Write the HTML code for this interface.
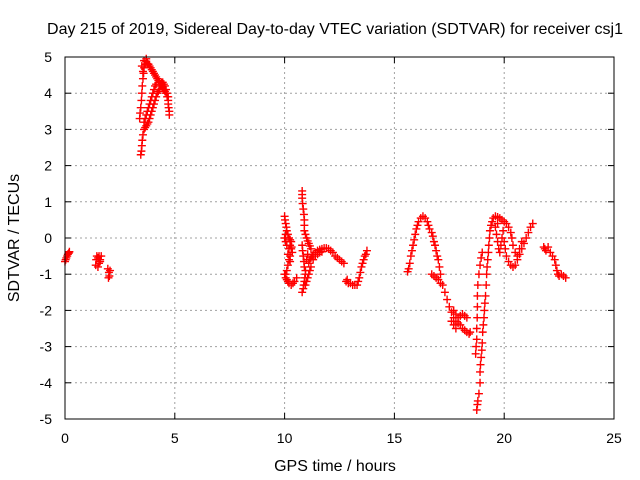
<!DOCTYPE html>
<html><head><meta charset="utf-8"><style>
html,body{margin:0;padding:0;background:#fff;}
svg{display:block;font-family:"Liberation Sans",sans-serif;}
</style></head><body>
<svg id="chart" width="640" height="480" viewBox="0 0 640 480">
<rect width="640" height="480" fill="#fff"/>
<text x="335" y="34" font-size="16" text-anchor="middle">Day 215 of 2019, Sidereal Day-to-day VTEC variation (SDTVAR) for receiver csj1</text>
<text x="335" y="471" font-size="16" text-anchor="middle">GPS time / hours</text>
<text x="0" y="0" font-size="16" text-anchor="middle" transform="translate(19,238) rotate(-90)">SDTVAR / TECUs</text>
<g id="grid"></g>
<g id="ticks"></g>
<g id="points"></g>
<rect x="65" y="57" width="549" height="362" fill="none" stroke="#000" stroke-width="1"/>
</svg>
<script>
const xTicks = [0,5,10,15,20,25];
const yTicks = [-5,-4,-3,-2,-1,0,1,2,3,4,5];
const segA = [[0,-0.65],[0.03,-0.6],[0.06,-0.55],[0.1,-0.5],[0.13,-0.45],[0.17,-0.42],[0.2,-0.38]];
const segB = [[1.4,-0.75],[1.42,-0.6],[1.45,-0.5],[1.5,-0.55],[1.55,-0.5],[1.6,-0.6],[1.65,-0.5],[1.5,-0.8],[1.55,-0.7],[1.6,-0.65]];
const segC = [[1.95,-0.85],[2.0,-0.95],[2.02,-1.05],[1.98,-1.1],[2.05,-0.9]];
const segD = [[3.4,3.3],[3.42,3.45],[3.45,3.6],[3.48,3.8],[3.5,4.0],[3.52,4.2],[3.55,4.4],[3.58,4.55],[3.6,4.7],[3.65,4.8],[3.7,4.88],[3.75,4.82],[3.8,4.8],[3.85,4.75],[3.9,4.7],[3.95,4.65],[4.0,4.6],[4.05,4.55],[4.1,4.5],[4.15,4.45],[4.2,4.4],[4.25,4.35],[4.3,4.3],[4.35,4.25],[4.4,4.2],[4.45,4.15],[4.5,4.1],[4.55,4.05],[4.6,4.0],[4.65,3.9],[4.7,3.8],[4.7,3.7],[4.72,3.6],[4.75,3.5],[4.75,3.4],
[3.45,2.3],[3.48,2.4],[3.5,2.55],[3.52,2.7],[3.55,2.85],[3.6,3.0],[3.65,3.05],[3.7,3.1],[3.75,3.15],[3.8,3.2],[3.85,3.3],[3.9,3.4],[3.95,3.5],[4.0,3.6],[4.05,3.7],[4.1,3.8],[4.15,3.9],[4.2,4.0],[4.25,4.05],[4.3,4.1],[4.35,4.2],[4.4,4.3],[4.45,4.3],[4.5,4.25],[4.55,4.2],[4.6,4.1],[4.65,4.0],[4.7,3.9],
[3.6,3.2],[3.65,3.3],[3.7,3.4],[3.75,3.5],[3.8,3.6],[3.85,3.7],[3.9,3.8],[3.95,3.9],[4.0,4.0],[4.05,4.1],[4.1,4.2],[4.15,4.25],[3.5,4.75],[3.55,4.6],[3.6,4.9],[3.7,4.95]];
const segE = [[10.0,0.6],[10.02,0.5],[10.05,0.4],[10.08,0.3],[10.1,0.2],[10.05,0.1],[10.0,0.0],[10.05,-0.1],[10.1,-0.2],[10.2,-0.3],[10.25,-0.2],[10.3,-0.1],[10.32,-0.25],[10.35,-0.4],[10.25,-0.5],[10.2,-0.6],[10.15,-0.75],[10.1,-0.9],[10.05,-1.0],[10.05,-1.1],[10.1,-1.15],[10.15,-1.2],[10.2,-1.25],[10.3,-1.3],[10.38,-1.25],[10.45,-1.2],[10.55,-1.1],[10.15,0.1],[10.2,0.0],[10.25,-0.05],[10.3,-0.3],[10.0,-1.0],[10.15,-0.45],[10.25,-0.65]];
const segF = [[10.8,1.3],[10.8,1.2],[10.8,1.1],[10.82,0.95],[10.85,0.8],[10.88,0.65],[10.9,0.5],[10.9,0.35],[10.9,0.2],[10.95,0.1],[11.0,0.0],[11.05,-0.08],[11.1,-0.15],[11.15,-0.22],[11.2,-0.3],[10.8,-0.2],[10.82,-0.35],[10.85,-0.5],[10.88,-0.65],[10.9,-0.8],[10.95,-0.9],[10.95,-1.0],[10.92,-1.1],[10.9,-1.2],[10.87,-1.3],[10.85,-1.4],[10.8,-1.5],[10.95,-1.3],[11.0,-1.2],[11.05,-1.1],[11.1,-1.0],[11.15,-0.9],[11.2,-0.8],[11.1,-0.7],[11.15,-0.6],[11.2,-0.55],[11.25,-0.5],[11.3,-0.45],[11.4,-0.4],[11.5,-0.35],[11.6,-0.32],[11.7,-0.3],[11.8,-0.28],[11.9,-0.28],[12.0,-0.3],[12.1,-0.35],[12.2,-0.4],[12.3,-0.5],[12.4,-0.55],[12.5,-0.6],[12.6,-0.65],[12.7,-0.7],[11.3,-0.6],[11.4,-0.5],[11.5,-0.45],[11.6,-0.4],[11.7,-0.38],[11.0,-0.6],[11.05,-0.45]];
const segG = [[12.8,-1.2],[12.85,-1.15],[12.9,-1.25],[13.0,-1.25],[13.1,-1.3],[13.2,-1.3],[13.3,-1.3],[13.35,-1.2],[13.4,-1.1],[13.45,-0.95],[13.5,-0.8],[13.55,-0.7],[13.6,-0.6],[13.65,-0.5],[13.7,-0.45],[13.75,-0.35]];
const segH = [[15.6,-0.93],[15.65,-0.85],[15.7,-0.7],[15.75,-0.5],[15.8,-0.35],[15.85,-0.2],[15.9,-0.05],[15.95,0.1],[16.0,0.25],[16.05,0.35],[16.1,0.45],[16.2,0.55],[16.3,0.6],[16.4,0.55],[16.5,0.45],[16.55,0.35],[16.6,0.25],[16.7,0.15],[16.75,0.05],[16.8,-0.1],[16.85,-0.2],[16.9,-0.35],[16.95,-0.5],[17.0,-0.6],[16.7,-1.0],[16.8,-1.05],[16.9,-1.1],[17.0,-1.15],[17.1,-1.25],[17.05,-0.8],[17.1,-1.0],[17.2,-1.3],[17.3,-1.5],[17.4,-1.7],[17.5,-1.9],[17.6,-2.05],[17.7,-2.2],[17.8,-2.3],[17.9,-2.35],[18.0,-2.4],[18.1,-2.5],[18.2,-2.55],[18.3,-2.6],[18.4,-2.65],[18.45,-2.6],[17.7,-2.0],[17.8,-2.1],[17.9,-2.2],[18.0,-2.15],[18.1,-2.1],[18.2,-2.15],[18.3,-2.2],[17.6,-2.3],[17.7,-2.4],[17.8,-2.5]];
const segI = [[18.75,-4.75],[18.78,-4.6],[18.8,-4.5],[18.85,-4.3],[18.9,-4.0],[18.9,-3.7],[18.92,-3.5],[18.95,-3.3],[18.98,-3.1],[19.0,-2.9],[19.02,-2.6],[19.05,-2.4],[19.08,-2.2],[19.1,-2.0],[19.12,-1.8],[19.15,-1.6],[19.18,-1.3],[19.2,-1.0],[19.22,-0.8],[19.25,-0.6],[19.28,-0.4],[19.3,-0.2],[19.33,0.0],[19.35,0.2],[19.4,0.35],[19.45,0.45],[19.5,0.55],[19.6,0.6],[19.7,0.58],[19.8,0.55],[19.9,0.5],[20.0,0.45],[20.1,0.4],[20.2,0.3],[20.3,0.15],
[18.7,-3.2],[18.72,-3.0],[18.75,-2.8],[18.75,-2.5],[18.77,-2.2],[18.78,-1.9],[18.78,-1.6],[18.8,-1.3],[18.85,-1.0],[18.9,-0.75],[18.95,-0.55],[19.0,-0.4],
[19.6,0.3],[19.65,0.1],[19.7,-0.1],[19.75,-0.3],[19.8,-0.4],[19.85,-0.2],[19.9,0.0],[19.95,0.2],[19.7,0.4],
[20.0,-0.1],[20.05,-0.3],[20.1,-0.5],[20.2,-0.65],[20.3,-0.75],[20.4,-0.8],[20.5,-0.75],[20.6,-0.6],[20.7,-0.45],[20.8,-0.3],[20.9,-0.15],[21.0,0.0],[21.1,0.15],[21.2,0.3],[21.3,0.4],[20.35,0.0],[20.4,-0.2],[20.5,-0.4],[20.6,-0.5],[20.7,-0.3],[20.8,-0.1]];
const segJ = [[21.8,-0.25],[21.85,-0.3],[21.9,-0.35],[22.0,-0.25],[22.1,-0.4],[22.2,-0.5],[22.3,-0.6],[22.35,-0.75],[22.4,-0.9],[22.45,-1.0],[22.5,-1.05],[22.6,-1.0],[22.7,-1.05],[22.8,-1.1]];
const segments = [segA,segB,segC,segD,segE,segF,segG,segH,segI,segJ];

const X0=65,X1=614,Y0=419,Y1=57;
function xs(h){return X0+(h-0)/(25-0)*(X1-X0);}
function ys(v){return Y0-(v+5)/10*(Y0-Y1);}
const NS="http://www.w3.org/2000/svg";
function mk(tag,attrs,parent){const e=document.createElementNS(NS,tag);for(const k in attrs)e.setAttribute(k,attrs[k]);parent.appendChild(e);return e;}
const grid=document.getElementById('grid'),ticks=document.getElementById('ticks'),pts=document.getElementById('points');
xTicks.forEach(t=>{
  const x=xs(t);
  if(t>0&&t<25){const g=mk('line',{x1:x,y1:Y0,x2:x,y2:Y1,stroke:'#a0a0a0','stroke-dasharray':'2,3','stroke-width':1},grid);
  
  }
  mk('line',{x1:x,y1:Y0,x2:x,y2:Y0-6,stroke:'#000'},ticks);
  mk('line',{x1:x,y1:Y1,x2:x,y2:Y1+6,stroke:'#000'},ticks);
  const l=mk('text',{x:x,y:443,'font-size':14,'text-anchor':'middle'},ticks);l.textContent=t;
  
  
});
yTicks.forEach(t=>{
  const y=ys(t);
  if(t>-5&&t<5){const g=mk('line',{x1:X0,y1:y,x2:X1,y2:y,stroke:'#a0a0a0','stroke-dasharray':'2,3','stroke-width':1},grid);
  
  }
  mk('line',{x1:X0,y1:y,x2:X0+6,y2:y,stroke:'#000'},ticks);
  mk('line',{x1:X1,y1:y,x2:X1-6,y2:y,stroke:'#000'},ticks);
  const l=mk('text',{x:52,y:y+5,'font-size':14,'text-anchor':'end'},ticks);l.textContent=t;
  
  
});
segments.forEach(seg=>seg.forEach(p=>{
  const x=xs(p[0]),y=ys(p[1]);
  const m=mk('path',{d:`M${x-4},${y}h8M${x},${y-4}v8`,stroke:'#f00','stroke-width':1.4,fill:'none'},pts);
  
  
}));
</script>
</body></html>
